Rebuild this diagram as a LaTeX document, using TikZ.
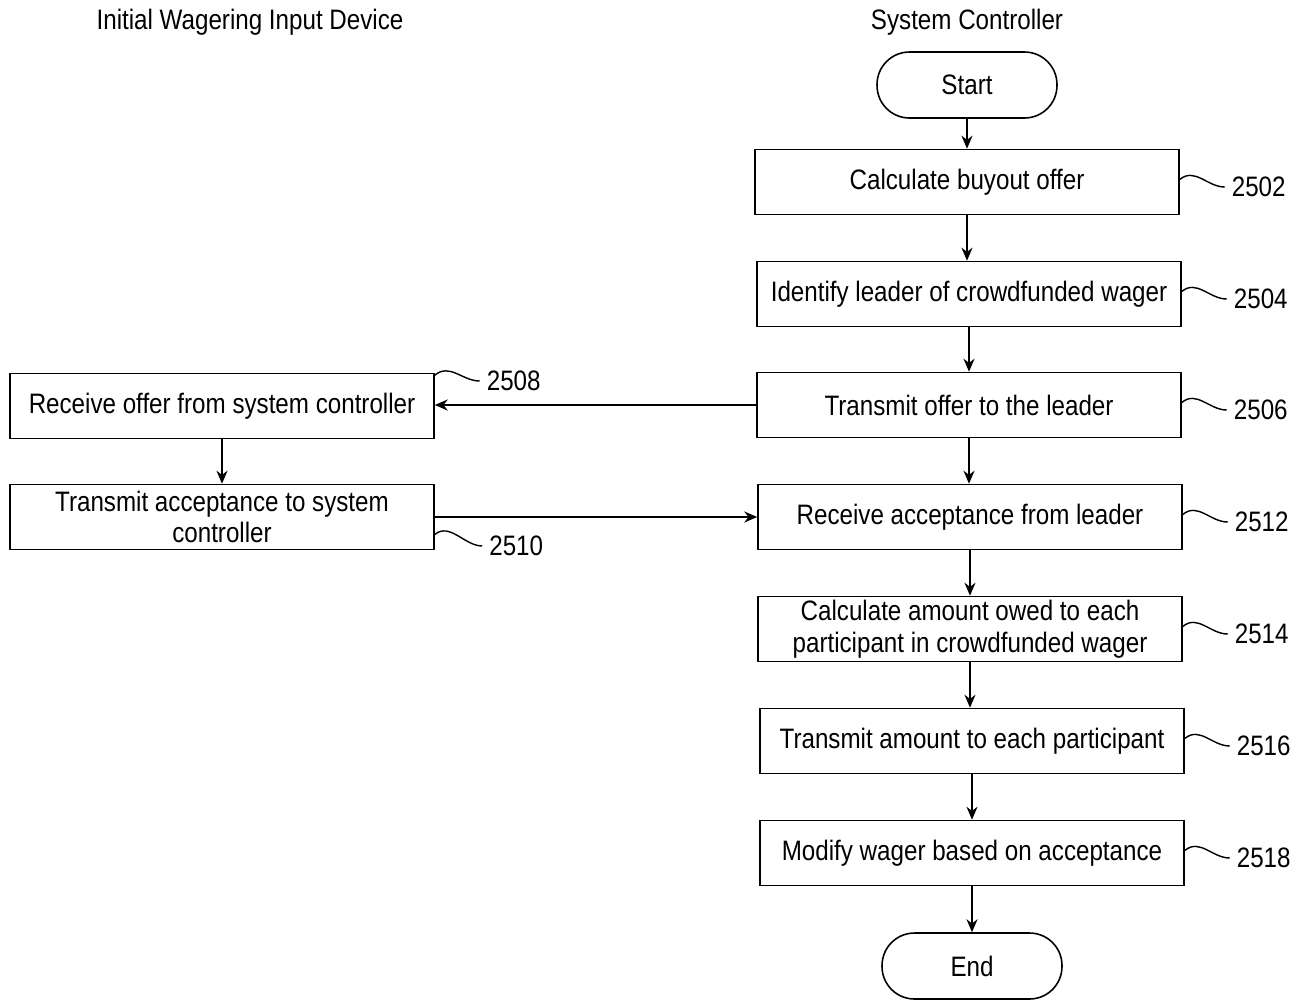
\documentclass[tikz,border=0pt]{standalone}
\usepackage{fontspec}
\setmainfont{Liberation Sans}[FakeStretch=0.86]
\usetikzlibrary{arrows.meta}
\tikzset{
  stepbox/.style={draw, line width=0.9pt, minimum width=8.48cm, minimum height=1.3cm,
    inner sep=2pt, align=center, font=\fontsize{16}{18}\selectfont},
  termbox/.style={draw, line width=0.9pt, rounded corners=0.65cm, minimum width=3.6cm,
    minimum height=1.32cm, font=\fontsize{16}{18}\selectfont},
  reflabel/.style={anchor=west, inner sep=1pt, font=\fontsize{16}{18}\selectfont},
  flow/.style={line width=0.9pt, -{Stealth[length=2.6mm,width=2.2mm]}},
  squig/.style={line width=0.8pt}
}

\begin{document}
\begin{tikzpicture}[x=0.02cm, y=-0.02cm]
  \useasboundingbox (0,0) rectangle (1294,1002);
  % lane headings
  \node[font=\fontsize{16}{18}\selectfont] (hdev) at (250,22) {Initial Wagering Input Device};
  \node[font=\fontsize{16}{18}\selectfont] (hsys) at (967,22) {System Controller};
  % system controller column
  \node[termbox] (start) at (967,85) {Start};
  \node[stepbox] (s2502) at (967,182) {Calculate buyout offer};
  \node[stepbox] (s2504) at (969,294) {Identify leader of crowdfunded wager};
  \node[stepbox] (s2506) at (969,405) {Transmit offer to the leader};
  \node[stepbox] (s2512) at (970,517) {Receive acceptance from leader};
  \node[stepbox] (s2514) at (970,629) {Calculate amount owed to each\\participant in crowdfunded wager};
  \node[stepbox] (s2516) at (972,741) {Transmit amount to each participant};
  \node[stepbox] (s2518) at (972,853) {Modify wager based on acceptance};
  \node[termbox] (end) at (972,966) {End};
  % input device column
  \node[stepbox] (s2508) at (222,406) {Receive offer from system controller};
  \node[stepbox] (s2510) at (222,517) {Transmit acceptance to system\\controller};
  % flow
  \draw[flow] (start.south) -- (start.south |- s2502.north);
  \draw[flow] (s2502.south) -- (s2502.south |- s2504.north);
  \draw[flow] (s2504.south) -- (s2504.south |- s2506.north);
  \draw[flow] (s2506.south) -- (s2506.south |- s2512.north);
  \draw[flow] (s2512.south) -- (s2512.south |- s2514.north);
  \draw[flow] (s2514.south) -- (s2514.south |- s2516.north);
  \draw[flow] (s2516.south) -- (s2516.south |- s2518.north);
  \draw[flow] (s2518.south) -- (s2518.south |- end.north);
  \draw[flow] (s2508) -- (s2510);
  \draw[flow] (s2506.west) -- (s2506.west -| s2508.east);
  \draw[flow] (s2510.east) -- (s2510.east -| s2512.west);
  % reference numerals
  \foreach \s in {2502,2504,2506,2512,2514,2516,2518} {
    \node[reflabel] (r\s) at ([xshift=1.0cm,yshift=-0.1cm]s\s.east) {\s};
    \draw[squig] ([yshift=0.05cm]s\s.east) .. controls +(0.3cm,0.25cm) and +(-0.35cm,0cm) .. ([xshift=-0.1cm]r\s.west);
  }
  \node[reflabel] (r2508) at ([xshift=1.0cm,yshift=0.5cm]s2508.east) {2508};
  \draw[squig] ([yshift=-0.05cm]s2508.north east) .. controls +(0.3cm,0.25cm) and +(-0.35cm,0cm) .. ([xshift=-0.1cm]r2508.west);
  \node[reflabel] (r2510) at ([xshift=1.05cm,yshift=-0.58cm]s2510.east) {2510};
  \draw[squig] ([yshift=-0.35cm]s2510.east) .. controls +(0.3cm,0.25cm) and +(-0.35cm,0cm) .. ([xshift=-0.1cm]r2510.west);
\end{tikzpicture}
\end{document}
